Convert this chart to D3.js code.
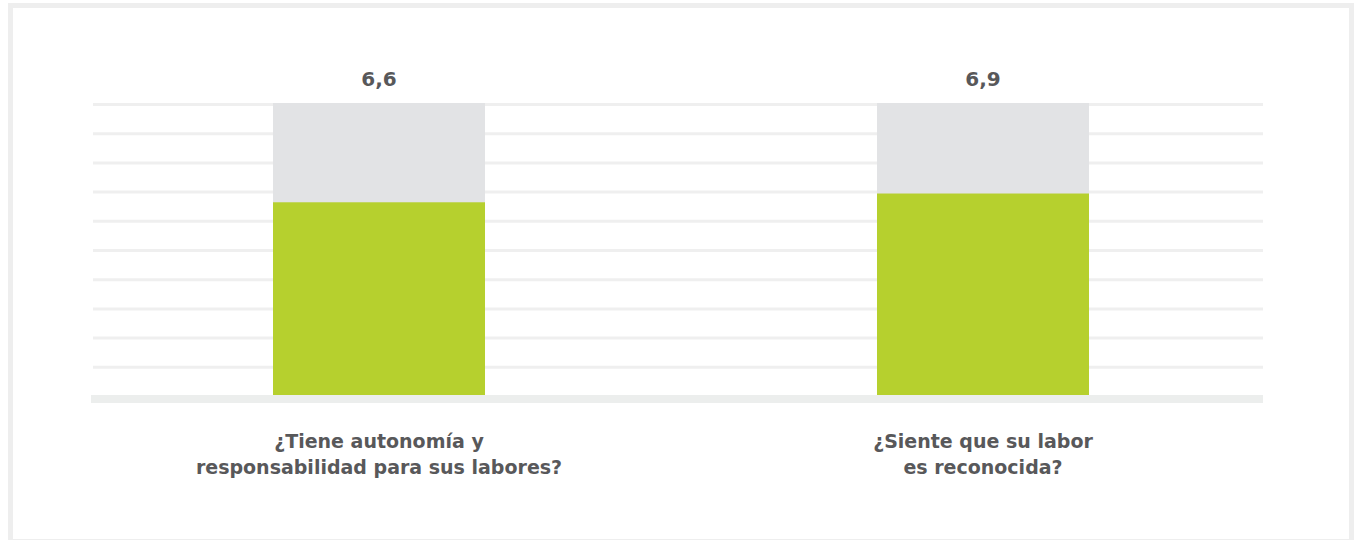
<!DOCTYPE html>
<html>
<head>
<meta charset="utf-8">
<script src="https://cdn.jsdelivr.net/npm/d3@7"></script>
<style>
  body { margin: 0; background: #fff; }
  svg { display: block; }
  text { font-family: "DejaVu Sans", sans-serif; font-weight: 700; fill: #58585a; }
</style>
</head>
<body>
<div id="chart"></div>
<script>
// svg size
var width = 1357, height = 540;

// data
var categories = [
    ["¿Tiene autonomía y", "responsabilidad para sus labores?"],
    ["¿Siente que su labor", "es reconocida?"]
];
var values = [6.6, 6.9];
var valueLabels = ["6,6", "6,9"];
var maxValue = 10;
var gridTicks = d3.range(1, 11);

var svg = d3.select("#chart")
            .append("svg")
            .attr("width", width)
            .attr("height", height);

// frame
svg.append("rect")
    .attr("x", 10.5)
    .attr("y", 5.5)
    .attr("width", 1341)
    .attr("height", 536)
    .attr("fill", "none")
    .attr("stroke", "#eeeeee")
    .attr("stroke-width", 5);

// scales
var x = d3.scaleBand()
            .domain(d3.range(categories.length))
            .range([273, 1089])
            .paddingInner(0.649)
            .paddingOuter(0);

var y = d3.scaleLinear()
            .domain([0, maxValue])
            .range([395, 103]);

// gridlines
svg.append("g")
    .attr("class", "grid")
    .selectAll("line")
    .data(gridTicks)
    .enter()
        .append("line")
        .attr("x1", 93)
        .attr("x2", 1263)
        .attr("y1", function(d){ return y(d) + 1.5; })
        .attr("y2", function(d){ return y(d) + 1.5; })
        .attr("stroke", "#efefef")
        .attr("stroke-width", 3);

// baseline
svg.append("line")
    .attr("x1", 91)
    .attr("x2", 1263)
    .attr("y1", y(0) + 4)
    .attr("y2", y(0) + 4)
    .attr("stroke", "#eceeed")
    .attr("stroke-width", 8);

var bars = svg.selectAll(".bar")
            .data(values)
            .enter()
                .append("g")
                .attr("class", "bar");

// background bar (full scale)
bars.append("rect")
    .attr("x", function(d, i){ return x(i); })
    .attr("width", x.bandwidth())
    .attr("y", y(maxValue))
    .attr("height", y(0) - y(maxValue))
    .attr("fill", "#e2e3e5");

// value bar
bars.append("rect")
    .attr("x", function(d, i){ return x(i); })
    .attr("width", x.bandwidth())
    .attr("y", function(d){ return y(d); })
    .attr("height", function(d){ return y(0) - y(d); })
    .attr("fill", "#b6d02e");

// value labels
bars.append("text")
    .attr("x", function(d, i){ return x(i) + x.bandwidth() / 2; })
    .attr("y", 86)
    .attr("text-anchor", "middle")
    .style("font-size", "20px")
    .text(function(d, i){ return valueLabels[i]; });

// category labels
var cats = svg.selectAll(".cat")
            .data(categories)
            .enter()
                .append("text")
                .attr("class", "cat")
                .attr("text-anchor", "middle")
                .style("font-size", "19px");

cats.selectAll("tspan")
    .data(function(d, i){ return d.map(function(t){ return {t: t, i: i}; }); })
    .enter()
        .append("tspan")
        .attr("x", function(d){ return x(d.i) + x.bandwidth() / 2; })
        .attr("y", function(d, j){ return 448 + j * 26; })
        .text(function(d){ return d.t; });
</script>
</body>
</html>
